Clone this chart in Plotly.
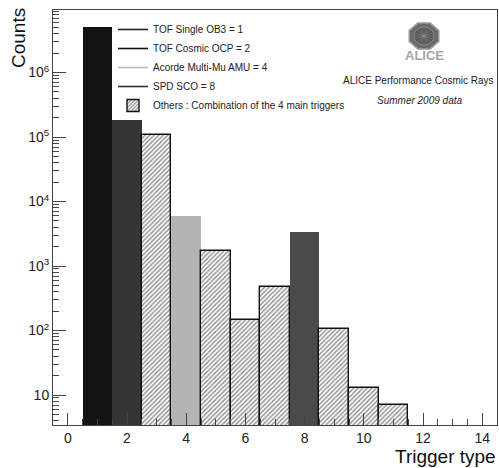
import math
import plotly.graph_objects as go

# ---- data ----
main_bins = [1, 2, 4, 8]
main_counts = [5070000, 184000, 6060, 3400]
main_colors = ["#131313", "#353535", "#b4b4b4", "#4a4a4a"]

other_bins = [3, 5, 6, 7, 9, 10, 11]
other_counts = [107000, 1690, 146, 476, 104, 13, 7]

legend_names = ["TOF Single OB3 = 1", "TOF Cosmic OCP = 2",
                "Acorde Multi-Mu AMU = 4", "SPD SCO = 8"]
legend_line_colors = ["#222222", "#111111", "#bdbdbd", "#333333"]
others_name = "Others : Combination of the 4 main triggers"

x_ticks = [0, 2, 4, 6, 8, 10, 12, 14]
y_tickvals = [10, 100, 1000, 10000, 100000, 1000000]
y_ticktext = ["10", "10<sup>2</sup>", "10<sup>3</sup>", "10<sup>4</sup>",
              "10<sup>5</sup>", "10<sup>6</sup>"]

# ---- layout geometry (px) ----
W, H = 499, 468
L, R, T, B = 53, 2, 10, 43
PW, PH = W - L - R, H - T - B


def px(x):
    return (x - L) / PW


def py(y):
    return (H - B - y) / PH


FONT = "Liberation Sans, Arial, Helvetica, sans-serif"

fig = go.Figure()

fig.add_trace(go.Bar(
    x=main_bins, y=main_counts, width=1,
    marker=dict(color=main_colors, line=dict(width=0)),
    showlegend=False, hoverinfo="x+y",
))

# legend samples (lines) for the main triggers
for name, col in zip(legend_names, legend_line_colors):
    fig.add_trace(go.Scatter(
        x=[None], y=[None], mode="lines", name=name,
        line=dict(color=col, width=1.6),
    ))

fig.add_trace(go.Bar(
    x=other_bins, y=other_counts, width=1, name=others_name,
    marker=dict(
        color="white",
        line=dict(color="#111111", width=1.4),
        pattern=dict(shape="/", fgcolor="#222222", bgcolor="white",
                     size=3.2, solidity=0.45),
    ),
    hoverinfo="x+y",
))

axis_col = "#444444"

fig.update_layout(
    width=W, height=H,
    margin=dict(l=L, r=R, t=T, b=B),
    paper_bgcolor="white", plot_bgcolor="white",
    barmode="overlay", bargap=0,
    font=dict(family=FONT, color="#222222"),
    legend=dict(
        x=px(113), y=py(15), xanchor="left", yanchor="top",
        bgcolor="rgba(0,0,0,0)", borderwidth=0,
        font=dict(size=10, family=FONT, color="#222222"),
        itemwidth=30, tracegroupgap=0,
    ),
    xaxis=dict(
        range=[-0.5, 14.5], tickmode="array", tickvals=x_ticks,
        ticks="inside", ticklen=12, tickcolor=axis_col, tickwidth=1,
        minor=dict(dtick=0.5, tick0=0, ticks="inside", ticklen=6,
                   tickcolor=axis_col, showgrid=False),
        showline=True, linecolor=axis_col, linewidth=1, mirror=True,
        showgrid=False, zeroline=False,
        tickfont=dict(size=14, family=FONT, color="#222222"),
    ),
    yaxis=dict(
        type="log", range=[0.535, 6.97],
        tickmode="array", tickvals=y_tickvals, ticktext=y_ticktext,
        ticks="inside", ticklen=13, tickcolor=axis_col, tickwidth=1,
        minor=dict(tickmode="array",
                   tickvals=[m * 10 ** e for e in range(0, 7) for m in range(2, 10)],
                   ticks="inside", ticklen=6, tickcolor=axis_col,
                   showgrid=False),
        showline=True, linecolor=axis_col, linewidth=1, mirror=True,
        showgrid=False, zeroline=False,
        tickfont=dict(size=14, family=FONT, color="#222222"),
    ),
)

annotations = [
    dict(text="Counts", textangle=-90, xref="paper", yref="paper",
         x=px(19), y=py(38), xanchor="center", yanchor="middle",
         showarrow=False,
         font=dict(size=19, family=FONT, color="#111111")),
    dict(text="Trigger type", xref="paper", yref="paper",
         x=px(498), xanchor="right", y=py(456), yanchor="middle",
         showarrow=False,
         font=dict(size=19, family=FONT, color="#111111")),
    dict(text="ALICE Performance Cosmic Rays", xref="paper", yref="paper",
         x=px(418), y=py(81), xanchor="center", yanchor="middle",
         showarrow=False,
         font=dict(size=10, family=FONT, color="#222222")),
    dict(text="<i>Summer 2009 data</i>", xref="paper", yref="paper",
         x=px(419), y=py(100), xanchor="center", yanchor="middle",
         showarrow=False,
         font=dict(size=10, family=FONT, color="#222222")),
    dict(text="<b>ALICE</b>", xref="paper", yref="paper",
         x=px(424), y=py(56), xanchor="center", yanchor="middle",
         showarrow=False,
         font=dict(size=13, family=FONT, color="#a6a6a6")),
]
fig.update_layout(annotations=annotations)

# ALICE logo (decorative octagon)
cx, cy, rx, ry = 424, 36, 16, 14
pts = []
for k in range(8):
    a = math.pi / 8 + k * math.pi / 4
    pts.append((px(cx + rx * math.cos(a)), py(cy + ry * math.sin(a))))
path = "M " + " L ".join(f"{x:.4f},{y:.4f}" for x, y in pts) + " Z"
shapes = [
    dict(type="path", path=path, xref="paper", yref="paper",
         fillcolor="#6a6a6a", line=dict(color="#9a9a9a", width=1.5)),
    dict(type="circle", xref="paper", yref="paper",
         x0=px(cx - 10), x1=px(cx + 10), y0=py(cy + 9), y1=py(cy - 9),
         fillcolor="#555555", line=dict(color="#888888", width=1)),
]
for k in range(8):
    a = k * math.pi / 8
    shapes.append(dict(type="line", xref="paper", yref="paper",
                       x0=px(cx - 9 * math.cos(a)), y0=py(cy - 8 * math.sin(a)),
                       x1=px(cx + 9 * math.cos(a)), y1=py(cy + 8 * math.sin(a)),
                       line=dict(color="#8c8c8c", width=0.6)))
fig.update_layout(shapes=shapes)

fig.write_html(
    "out.html",
    config={"displayModeBar": False},
    post_script="document.body.style.margin='0';document.body.style.overflow='hidden';",
)
